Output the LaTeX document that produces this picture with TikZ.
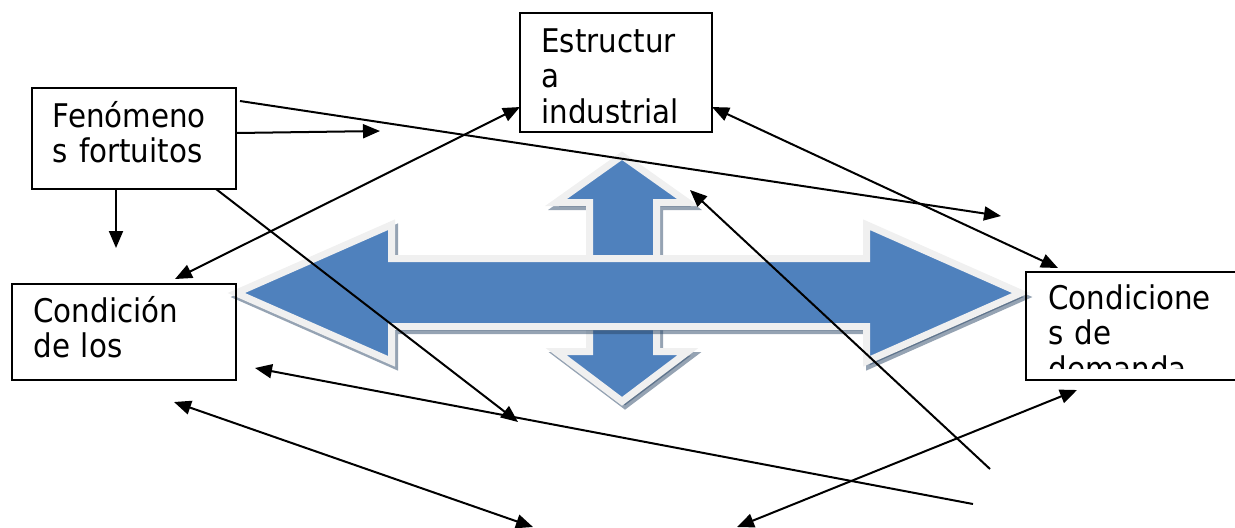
\documentclass[tikz,border=0pt]{standalone}
\usepackage{fontspec}
\setmainfont{DejaVu Sans Condensed}
\usetikzlibrary{
    arrows.meta
}
\definecolor{azul}{HTML}{4F81BD}
\definecolor{borde}{HTML}{F0F0F0}
\definecolor{sombra}{HTML}{2B4767}
\tikzset{
    >={Triangle[length=8.5pt,width=7pt]},
    caja/.style={
        draw,
        line width=1pt,
        anchor=north west,
        inner sep=0pt,
        outer sep=0pt
    },
    texto/.style={
        anchor=base west,
        inner sep=0pt,
        text width=95pt,
        align=left,
        font=\fontsize{16.3}{17.75}\selectfont
    },
    sombreado/.style={
        fill=sombra,
        draw=sombra,
        opacity=0.5,
        line width=3.5pt,
        line join=miter,
        transform canvas={xshift=1.5pt,yshift=-2pt}
    },
    flecha/.style={
        fill=azul,
        draw=borde,
        line width=3.5pt,
        line join=miter,
        preaction={sombreado}
    }
}

\begin{document}
\begin{tikzpicture}[
    x=0.5pt,
    y=-0.5pt
]
    \useasboundingbox (0,0) rectangle (1235,527);

    % Flechas grandes
    \draw[flecha] (622,155.7) -- (688,202.5) -- (656.5,202.5) -- (656.5,351.5)
        -- (688,351.5) -- (622,401.3) -- (556,351.5) -- (589.5,351.5)
        -- (589.5,202.5) -- (556,202.5) -- cycle;
    \draw[flecha] (236.3,293) -- (391.5,224.7) -- (391.5,258.5) -- (866.5,258.5)
        -- (866.5,224.7) -- (1020.7,293) -- (866.5,361.3) -- (866.5,326.5)
        -- (391.5,326.5) -- (391.5,361.3) -- cycle;

    % Cajas
    \node[caja, minimum width=102pt, minimum height=50.5pt] (fen)  at (32,88)   {};
    \node[caja, minimum width=96pt,  minimum height=59.5pt] (est)  at (520,13)  {};
    \node[caja, minimum width=112pt, minimum height=48pt]   (cond) at (12,284)  {};
    \node[caja, minimum width=107pt, minimum height=54pt]   (dem)  at (1026,272) {};

    % Textos
    \node[texto] (tfen) at (52.5,127) {Fenómeno\\s fortuitos};
    \begin{scope}
        \clip (520,13) rectangle (712,122);
        \node[texto] (test) at (541,52) {Estructur\\a\\industrial};
    \end{scope}
    \node[texto] (tcond) at (33,322) {Condición\\de los};
    \begin{scope}
        \clip (1026,272) rectangle (1240,368);
        \node[texto] (tdem) at (1048,309) {Condicione\\s de\\demanda};
    \end{scope}

    % Extremos libres
    \coordinate (p1) at (380,131);
    \coordinate (p2) at (1001,216);
    \coordinate (p4) at (518,422);
    \coordinate (p7) at (690,190);
    \coordinate (q7) at (990,469);
    \coordinate (q8) at (973,504);
    \coordinate (q9) at (533,527);
    \coordinate (q10) at (737,527);

    % Conexiones
    \path[->, line width=1pt]

        % fen
        ([yshift=2.75pt]fen.east)
            edge (p1)
        ([xshift=2pt,yshift=-6.5pt]fen.north east)
            edge (p2)
        ([xshift=-9pt]fen.south)
            edge ([xshift=-4pt,yshift=18pt]cond.north)
        ([xshift=41pt]fen.south)
            edge (p4)

        % est
        ([yshift=-17.25pt]est.west)
            edge[<->] ([xshift=25.5pt,yshift=2.5pt]cond.north)
        ([yshift=-17.25pt]est.east)
            edge[<->] ([xshift=-37.5pt,yshift=2pt]dem.north)

        % sueltas
        (q7)
            edge (p7)
        (q8)
            edge ([xshift=9.5pt,yshift=-18pt]cond.east)
        (q9)
            edge[<->] ([xshift=25pt,yshift=-11pt]cond.south)
        (q10)
            edge[<->] ([xshift=-28pt,yshift=-5pt]dem.south);

\end{tikzpicture}
\end{document}
